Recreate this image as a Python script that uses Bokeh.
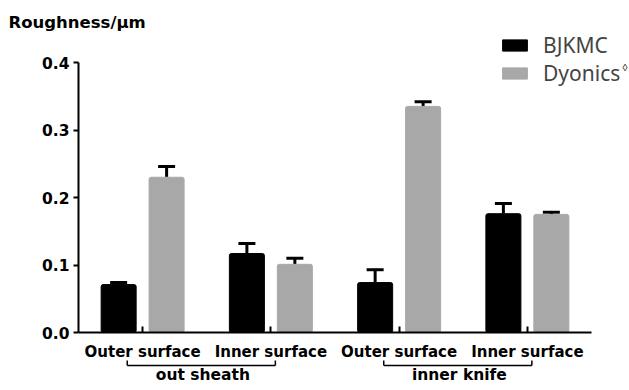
from bokeh.plotting import figure
from bokeh.models import (Range1d, FixedTicker, Whisker, TeeHead, Legend, LegendItem,
                          Label, Arrow, ColumnDataSource, PrintfTickFormatter)
from bokeh.transform import dodge
from bokeh.embed import file_html
from bokeh.resources import INLINE

# ---- data ----
positions = [1, 2, 3, 4]
surface_labels = ["Outer surface", "Inner surface", "Outer surface", "Inner surface"]
group_names = ["out sheath", "inner knife"]
group_members = [(1, 2), (3, 4)]
series_names = ["BJKMC", "Dyonics"]
bjkmc = [0.071, 0.117, 0.074, 0.176]
bjkmc_err = [0.003, 0.015, 0.019, 0.015]
dyonics = [0.230, 0.101, 0.335, 0.175]
dyonics_err = [0.016, 0.009, 0.007, 0.003]
y_ticks = [0.0, 0.1, 0.2, 0.3, 0.4]

AX_FONT = "DejaVu Sans"
BAR_W = 0.273
OFF = 0.187

# frame covers whole canvas; axes are pinned at fixed data locations
W, H = 629, 390
PX_X, PX_Y = 128.25, 675.0       # pixels per data unit
X0_PX, Y0_PX = 78, 332           # canvas position of the axes' origin (0.5, 0)
x_range = Range1d(0.5 - X0_PX / PX_X, 0.5 + (W - X0_PX) / PX_X)
y_range = Range1d(-(H - Y0_PX) / PX_Y, Y0_PX / PX_Y)

p = figure(width=W, height=H, output_backend="svg", toolbar_location=None,
           x_range=x_range, y_range=y_range, min_border=0,
           min_border_left=0, min_border_right=0, min_border_top=0, min_border_bottom=0)
p.outline_line_color = None
p.grid.visible = False

src_b = ColumnDataSource(dict(x=positions, top=bjkmc,
                              upper=[v + e for v, e in zip(bjkmc, bjkmc_err)]))
src_g = ColumnDataSource(dict(x=positions, top=dyonics,
                              upper=[v + e for v, e in zip(dyonics, dyonics_err)]))

rb = p.vbar(x=dodge("x", -OFF, range=p.x_range), top="top", width=BAR_W, source=src_b,
            fill_color="#000000", line_color="#000000", border_radius=2)
rg = p.vbar(x=dodge("x", OFF, range=p.x_range), top="top", width=BAR_W, source=src_g,
            fill_color="#a8a8a8", line_color="#a8a8a8", border_radius=2)

for src, off in ((src_b, -OFF), (src_g, OFF)):
    w = Whisker(source=src, base=dodge("x", off, range=p.x_range), lower="top", upper="upper",
                line_width=3, line_color="black",
                upper_head=TeeHead(size=17, line_width=3, line_color="black"), lower_head=None)
    p.add_layout(w)

# axes
ya = p.yaxis[0]
ya.fixed_location = 0.5
ya.ticker = FixedTicker(ticks=y_ticks)
ya.formatter = PrintfTickFormatter(format="%.1f")
ya.bounds = (0, 0.4)
ya.axis_line_width = 2
ya.major_tick_line_width = 2
ya.major_tick_out = 5
ya.major_tick_in = 0
ya.minor_tick_line_color = None
ya.major_label_standoff = 4
ya.major_label_text_font = AX_FONT
ya.major_label_text_font_style = "bold"
ya.major_label_text_font_size = "15.5px"
ya.major_label_text_color = "black"

xa = p.xaxis[0]
xa.fixed_location = 0
xa.ticker = FixedTicker(ticks=positions)
xa.major_label_overrides = {pos: lab for pos, lab in zip(positions, surface_labels)}
xa.bounds = (0.5, 4.5)
xa.axis_line_width = 2
xa.major_tick_line_width = 2
xa.major_tick_in = 6
xa.major_tick_out = 0
xa.minor_tick_line_color = None
xa.major_label_standoff = 10
xa.major_label_text_font = AX_FONT
xa.major_label_text_font_style = "bold"
xa.major_label_text_font_size = "15px"
xa.major_label_text_color = "black"

# title
p.add_layout(Label(x=-0.046, y=0.459, text="Roughness/µm", text_baseline="middle",
                   text_font=AX_FONT, text_font_style="bold", text_font_size="16.5px",
                   text_color="black"))

# group brackets and labels
for name, (a, b) in zip(group_names, group_members):
    x0, x1 = a - 0.12, b + 0.035
    yl, yt = -0.04889, -0.04148
    for xs, ys, xe, ye in ((x0, yl, x1, yl), (x0, yl, x0, yt), (x1, yl, x1, yt)):
        p.add_layout(Arrow(end=None, x_start=xs, y_start=ys, x_end=xe, y_end=ye,
                           line_width=1.5, line_color="black"))
    p.add_layout(Label(x=(a + b) / 2 - 0.03, y=-0.0637, text=name, text_align="center",
                       text_baseline="middle", text_font=AX_FONT, text_font_style="bold",
                       text_font_size="15.5px", text_color="black"))

legend = Legend(items=[LegendItem(label=series_names[0], renderers=[rb]),
                       LegendItem(label=series_names[1], renderers=[rg])],
                location=(499, 303), glyph_width=31, glyph_height=14, label_standoff=13,
                spacing=0, padding=0, margin=0, border_line_color=None,
                background_fill_alpha=0, label_text_font="Noto Sans",
                label_text_font_size="21px", label_height=27)
p.add_layout(legend)
p.add_layout(Label(x=4.742, y=0.3926, text="◊", text_align="left", text_baseline="middle",
                   text_font="Noto Sans", text_font_size="10px", text_color="black"))

open("out.html", "w").write(file_html(p, INLINE))
